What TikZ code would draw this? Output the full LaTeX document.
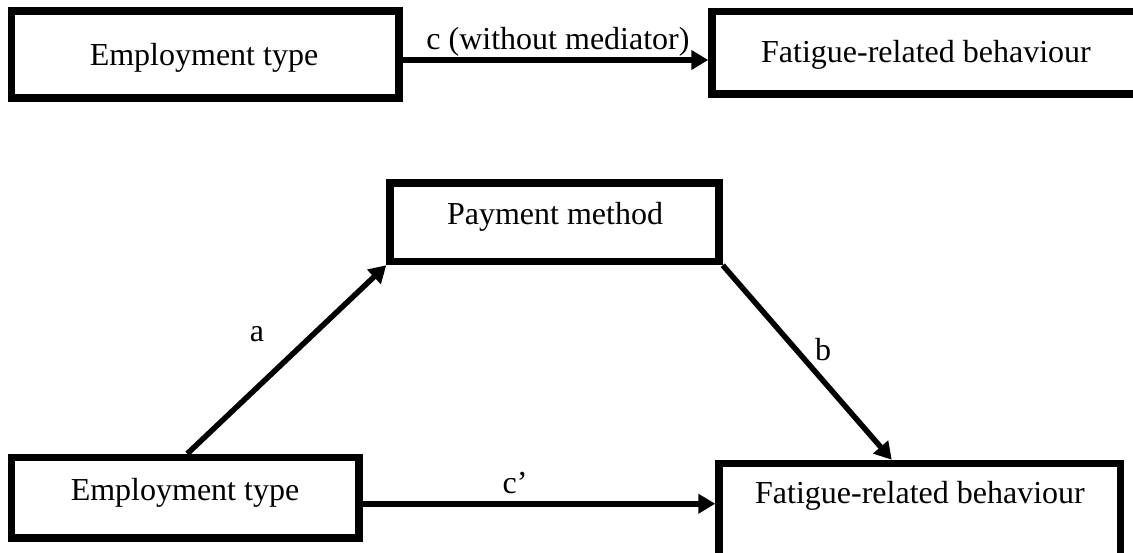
\documentclass[tikz,border=0pt]{standalone}
\usepackage{fontspec}
\setmainfont{Liberation Serif}
\usetikzlibrary{arrows.meta,calc}

\tikzset{
  box/.style={draw=black, line width=7.5pt, inner sep=0pt, minimum width=#1},
  path arrow/.style={line width=5.5pt, -{Triangle[length=17pt,width=19pt]}},
  lbl/.style={anchor=base, inner sep=0pt, font=\fontsize{32}{38}\selectfont},
}

\begin{document}
\begin{tikzpicture}[x=1pt, y=-1pt]
  \useasboundingbox (0,0) rectangle (1133,553);
  \clip (0,0) rectangle (1133,553);
  \fill[white] (0,0) rectangle (1133,553);

  % total effect (upper diagram)
  \node[box=387.5pt, minimum height=87pt]    (tl) at (205.25,54.5) {};
  \node[box=433pt,   minimum height=82.5pt]  (tr) at (928.5,52.75) {};
  \node[lbl] (tltxt) at (204,66)  {Employment type};
  \node[lbl] (trtxt) at (926,63)  {Fatigue-related behaviour};

  \coordinate (cs) at ($(tl.east)+(0,5.5)$);
  \draw[path arrow] (cs) -- (cs -| tr.west);
  \node[lbl] (clbl) at (558,50) {c (without mediator)};

  % mediation model (lower diagram)
  \node[box=329pt,   minimum height=78.5pt]  (pm) at (554.5,222.25) {};
  \node[box=347.5pt, minimum height=80.5pt]  (bl) at (185.25,497.75) {};
  \node[box=401.5pt, minimum height=106.5pt] (br) at (919.75,516.75) {};
  \node[lbl] (pmtxt) at (555,225) {Payment method};
  \node[lbl] (bltxt) at (185,500) {Employment type};
  \node[lbl] (brtxt) at (920,503) {Fatigue-related behaviour};

  \draw[path arrow] ($(bl.north)+(2,0)$) -- (pm.south west);
  \node[lbl] (albl) at (257,342) {a};

  \draw[path arrow] (pm.south east) -- ($(br.north)+(-28,0)$);
  \node[lbl] (blbl) at (823,360) {b};

  \coordinate (cps) at ($(bl.east)+(0,6)$);
  \draw[path arrow] (cps) -- (cps -| br.west);
  \node[lbl] (cplbl) at (515,493) {c’};
\end{tikzpicture}
\end{document}
